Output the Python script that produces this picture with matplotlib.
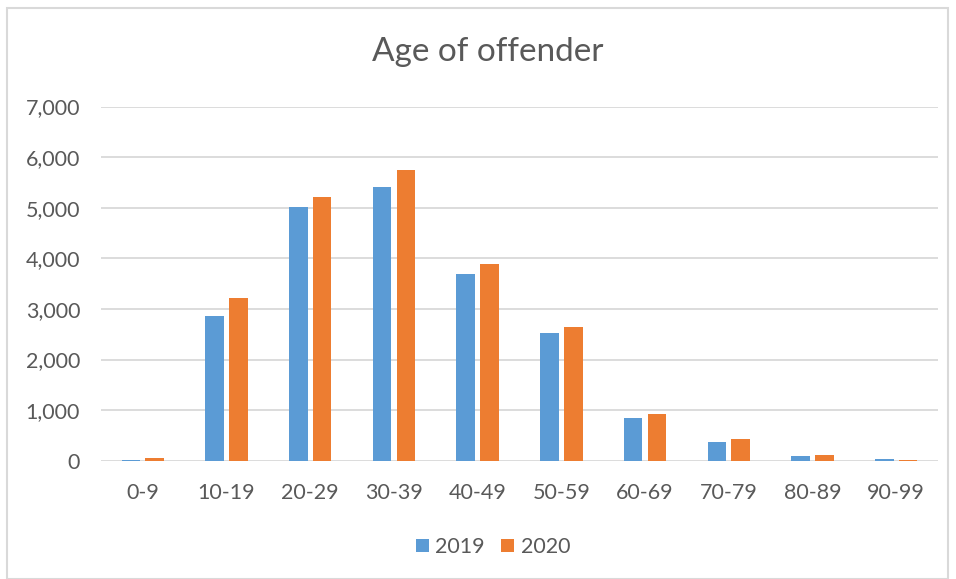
import numpy as np
import matplotlib.pyplot as plt
from matplotlib.patches import Rectangle

# data
ages = ["0-9", "10-19", "20-29", "30-39", "40-49", "50-59",
        "60-69", "70-79", "80-89", "90-99"]
y2019 = [20, 2855, 5010, 5410, 3680, 2530, 850, 360, 100, 40]
y2020 = [50, 3215, 5220, 5745, 3895, 2650, 920, 430, 120, 10]

BLUE = "#5B9BD5"
ORANGE = "#ED7D31"
TEXT = "#595959"
GRID = "#D9D9D9"

plt.rcParams["font.family"] = ["Lato", "DejaVu Sans"]

W, H = 956, 579
fig = plt.figure(figsize=(W / 100, H / 100), dpi=100)

# outer chart border
fig.patches.append(Rectangle((7 / W, 0), (948 - 7) / W, 1 - 8 / H,
                             transform=fig.transFigure, fill=False,
                             edgecolor="#D9D9D9", linewidth=1.5))

left, right, top, bottom = 101, 938, 106.5, 460.7
ax = fig.add_axes([left / W, 1 - bottom / H, (right - left) / W, (bottom - top) / H])

x = np.arange(len(ages))
w = 0.222
off = 0.142
ax.bar(x - off, y2019, w, color=BLUE, label="2019", zorder=3)
ax.bar(x + off, y2020, w, color=ORANGE, label="2020", zorder=3)

ax.set_xlim(-0.5, len(ages) - 0.5)
ax.set_ylim(0, 7000)
ax.set_yticks(range(0, 7001, 1000))
ax.set_yticklabels([f"{v:,}" for v in range(0, 7001, 1000)])
ax.set_xticks(x)
ax.set_xticklabels(ages)

ax.grid(axis="y", color=GRID, linewidth=1.3, zorder=0)
for s in ax.spines.values():
    s.set_visible(False)
ax.tick_params(axis="both", length=0, labelsize=15.5, colors=TEXT)
ax.tick_params(axis="y", pad=15)
ax.tick_params(axis="x", pad=16)

fig.text(488 / W, 1 - 52 / H, "Age of offender", ha="center", va="center",
         fontsize=24, color=TEXT)

fig.legend(loc="center", bbox_to_anchor=(493 / W, 1 - 547 / H), ncol=2,
           frameon=False, fontsize=15.5, labelcolor=TEXT, handlelength=0.6,
           handleheight=0.6, handletextpad=0.3, columnspacing=0.75)

fig.savefig("out.png", dpi=100)
